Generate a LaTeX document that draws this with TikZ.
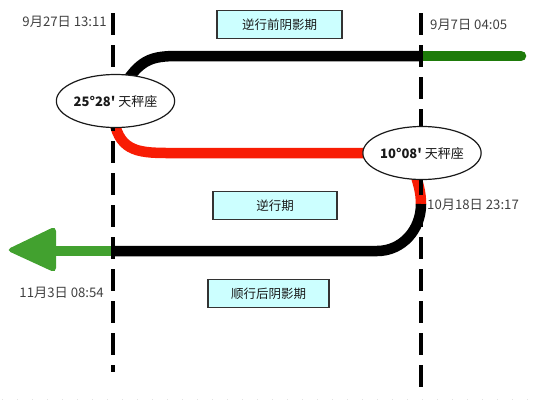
\documentclass[tikz,border=0pt]{standalone}
\usepackage{fontspec}
\setmainfont{Noto Sans CJK SC}[Ligatures=TeXOff]
\usetikzlibrary{shapes.geometric,backgrounds}
\definecolor{dkgreen}{HTML}{1E7B0A}
\definecolor{ltgreen}{HTML}{42A12F}
\definecolor{redline}{HTML}{F81C04}
\definecolor{boxfill}{HTML}{CCFFFF}
\definecolor{edge}{HTML}{333333}
\definecolor{datetext}{HTML}{404040}
\tikzset{
  oval/.style={ellipse, draw=black!90, line width=1.2pt, fill=white, minimum width=105pt, minimum height=53pt, inner sep=0pt, font=\fontsize{13}{15}\selectfont, text=black!90},
  periodbox/.style={rectangle, draw=edge, line width=1.5pt, fill=boxfill, minimum height=28pt, inner sep=0pt, font=\fontsize{12.5}{14}\selectfont, text=black!90},
  datelabel/.style={inner sep=0pt, font=\fontsize{13.2}{15}\selectfont, text=datetext},
  thick path/.style={line width=10.5pt},
  vdash/.style={line width=3.3pt, dash pattern=on 22pt off 10pt, black},
}
\begin{document}
\begin{tikzpicture}[x=1pt,y=-1pt]
\useasboundingbox (0,0) rectangle (534,400);
% nodes
\node[oval] (e1) at (115.5,101) {\textbf{25°28'} 天秤座};
\node[oval] (e2) at (422,153) {\textbf{10°08'} 天秤座};
\node[periodbox, minimum width=125pt] (b1) at (279.5,24.5) {逆行前阴影期};
\node[periodbox, minimum width=124pt] (b2) at (275,205.5) {逆行期};
\node[periodbox, minimum width=121pt] (b3) at (268.5,293.5) {顺行后阴影期};
\node[datelabel, anchor=east] (d1) at (107,22) {9月27日 13:11};
\node[datelabel, anchor=west] (d2) at (430,25) {9月7日 04:05};
\node[datelabel, anchor=west] (d3) at (427,205) {10月18日 23:17};
\node[datelabel, anchor=east] (d4) at (104,293) {11月3日 08:54};
% coordinates
\coordinate (t1) at (122,88);
\coordinate (t2) at (178,56);
\coordinate (tr) at (421,56);
\coordinate (ge) at (521,56);
\coordinate (r1) at (113,115);
\coordinate (r2) at (168,153);
\coordinate (s1) at (413,168);
\coordinate (s2) at (421,204);
\coordinate (k1) at (377,251);
\coordinate (k2) at (113,251);
\coordinate (g1) at (50,251);
\coordinate (L1) at (113,13);
\coordinate (L2) at (113,372);
\coordinate (R1) at (421,13);
\coordinate (R2) at (421,397);
\begin{pgfonlayer}{background}
  % top: green then black
  \draw[thick path, dkgreen, line cap=round] (tr) -- (ge);
  \draw[thick path, black] (t1) .. controls (140,60) and (150,56) .. (t2) -- (tr);
  % red
  \draw[thick path, redline] (r1) .. controls (118,150) and (135,153) .. (r2) -- (e2.center);
  \draw[thick path, redline] (s1) .. controls (418,182) and (421,192) .. (s2);
  % bottom black
  \draw[thick path, black] (s2) .. controls (421,230) and (402,251) .. (k1) -- (k2);
  % left green arrow
  \draw[thick path, ltgreen] (k2) -- (g1);
  \fill[ltgreen, rounded corners=5pt] (56,226) -- (6,250) -- (56,273) -- cycle;
  % dashed verticals
  \draw[vdash] (L1) -- (L2);
  \draw[vdash] (R1) -- (R2);
  % faint bottom dotted line
  \draw[gray!22, line width=0.8pt, dash pattern=on 0.8pt off 14.2pt] (2,399) -- (534,399);
\end{pgfonlayer}
\end{tikzpicture}
\end{document}
